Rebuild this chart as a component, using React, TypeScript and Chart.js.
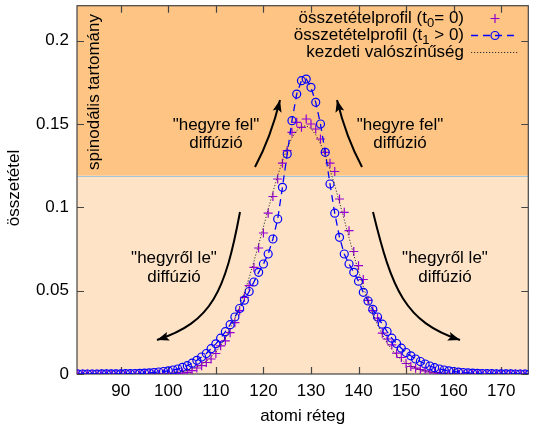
import React, { useEffect, useRef } from 'react';
import { Chart, registerables } from 'chart.js';

Chart.register(...registerables);

// ---- data (atomic layers 81 .. 176) ----
const firstLayer = 81;

const profileT0 = [
  0, 0, 0, 0, 0, 0, 0, 0, 0, 0,
  0, 0, 0, 0, 0, 0, 0, 0, 0, 0,
  0.0001, 0.0003, 0.0006, 0.001, 0.002, 0.0036, 0.005, 0.0069, 0.009, 0.0123,
  0.0169, 0.0199, 0.0248, 0.0308, 0.038, 0.046, 0.053, 0.064, 0.0756, 0.0846,
  0.0965, 0.1065, 0.117, 0.1265, 0.134, 0.145, 0.151, 0.148, 0.153, 0.15,
  0.147, 0.141, 0.133, 0.1265, 0.1215, 0.105, 0.097, 0.086, 0.0735, 0.065,
  0.0567, 0.0442, 0.038, 0.0335, 0.0245, 0.021, 0.0175, 0.0125, 0.0099, 0.0063,
  0.0045, 0.0035, 0.0027, 0.0019, 0.0012, 0.0007, 0.0004, 0.0002, 0.0001, 0,
  0, 0, 0, 0, 0, 0, 0, 0, 0, 0,
  0, 0, 0, 0, 0, 0,
];

const profileT1 = [
  0, 0, 0, 0, 0, 0.0001, 0.0001, 0.0001, 0.0001, 0.0001,
  0.0002, 0.0002, 0.0003, 0.0004, 0.0005, 0.0007, 0.0009, 0.0012, 0.0015, 0.0019,
  0.0024, 0.003, 0.004, 0.005, 0.0065, 0.0082, 0.0102, 0.0123, 0.0152, 0.0181,
  0.0215, 0.0254, 0.0296, 0.0342, 0.0393, 0.0443, 0.0495, 0.0552, 0.061, 0.066,
  0.072, 0.081, 0.093, 0.112, 0.132, 0.152, 0.168, 0.176, 0.177, 0.172,
  0.163, 0.15, 0.133, 0.114, 0.0965, 0.082, 0.072, 0.066, 0.061, 0.0557,
  0.049, 0.0438, 0.0388, 0.0342, 0.0299, 0.0255, 0.0215, 0.0183, 0.0155, 0.0129,
  0.0109, 0.009, 0.0075, 0.006, 0.0048, 0.0038, 0.003, 0.0024, 0.0019, 0.0015,
  0.0011, 0.0009, 0.0007, 0.0005, 0.0004, 0.0003, 0.0002, 0.0002, 0.0001, 0.0001,
  0.0001, 0.0001, 0, 0, 0, 0,
];

const initialProb = [
  0, 0, 0, 0, 0, 0, 0, 0, 0, 0,
  0, 0, 0, 0, 0, 0, 0.0001, 0.0002, 0.0003, 0.0005,
  0.0007, 0.0011, 0.0015, 0.0022, 0.0031, 0.0042, 0.0057, 0.0077, 0.0102, 0.0132,
  0.017, 0.0216, 0.0271, 0.0334, 0.0406, 0.0488, 0.0578, 0.0675, 0.0777, 0.0882,
  0.0988, 0.1092, 0.119, 0.1278, 0.1355, 0.1417, 0.146, 0.1485, 0.1489, 0.1473,
  0.1436, 0.1382, 0.1311, 0.1227, 0.1132, 0.103, 0.0925, 0.0819, 0.0715, 0.0616,
  0.0523, 0.0438, 0.0362, 0.0295, 0.0237, 0.0188, 0.0147, 0.0113, 0.0086, 0.0064,
  0.0048, 0.0035, 0.0025, 0.0018, 0.0012, 0.0009, 0.0006, 0.0004, 0.0003, 0.0002,
  0.0001, 0, 0, 0, 0, 0, 0, 0, 0, 0,
  0, 0, 0, 0, 0, 0,
];

const xTickValues = [90, 100, 110, 120, 130, 140, 150, 160, 170];
const yTickValues = [0, 0.05, 0.1, 0.15, 0.2];
const xRange = [80.8, 175.7];
const yRange = [0, 0.221];
const spinodalLimit = 0.119;

const legendT0 = ['összetételprofil (t', '0', '= 0)'];
const legendT1 = ['összetételprofil (t', '1', ' > 0)'];
const legendInit = 'kezdeti valószínűség';
const uphillLabel = ['"hegyre fel"', 'diffúzió'];
const downhillLabel = ['"hegyről le"', 'diffúzió'];
const regionLabel = 'spinodális tartomány';
const xTitle = 'atomi réteg';
const yTitle = 'összetétel';

const FAM = '"Liberation Sans", Arial, Helvetica, sans-serif';
const VIOLET = '#9400d3';
const BLUE = '#0000ff';

export default function App() {
  const ref = useRef<HTMLCanvasElement>(null);

  useEffect(() => {
    const layers = profileT0.map((_, i) => firstLayer + i);
    const pts = (vals: number[]) => vals.map((v, i) => ({ x: layers[i], y: v }));

    const big = `17px ${FAM}`;
    const small = `13px ${FAM}`;

    const drawArrow = (ctx: CanvasRenderingContext2D, p: number[][]) => {
      const [p0, c1, c2, p3] = p;
      ctx.beginPath();
      ctx.moveTo(p0[0], p0[1]);
      ctx.bezierCurveTo(c1[0], c1[1], c2[0], c2[1], p3[0], p3[1]);
      ctx.stroke();
      let dx = p3[0] - c2[0];
      let dy = p3[1] - c2[1];
      const len = Math.hypot(dx, dy);
      dx /= len; dy /= len;
      const L = 12, W = 4.5;
      const bx = p3[0] - dx * L, by = p3[1] - dy * L;
      const nx = -dy, ny = dx;
      ctx.beginPath();
      ctx.moveTo(p3[0], p3[1]);
      ctx.lineTo(bx + nx * W, by + ny * W);
      ctx.lineTo(p3[0] - dx * L * 0.8, p3[1] - dy * L * 0.8);
      ctx.lineTo(bx - nx * W, by - ny * W);
      ctx.closePath();
      ctx.fill();
    };

    const drawRich = (ctx: CanvasRenderingContext2D, parts: string[], right: number, base: number) => {
      ctx.font = big;
      const w0 = ctx.measureText(parts[0]).width;
      const w2 = ctx.measureText(parts[2]).width;
      ctx.font = small;
      const w1 = ctx.measureText(parts[1]).width;
      let x = right - (w0 + w1 + w2);
      ctx.textAlign = 'left';
      ctx.textBaseline = 'alphabetic';
      ctx.font = big;
      ctx.fillText(parts[0], x, base);
      x += w0;
      ctx.font = small;
      ctx.fillText(parts[1], x, base + 4);
      x += w1;
      ctx.font = big;
      ctx.fillText(parts[2], x, base);
    };

    const decor = {
      id: 'decor',
      beforeDatasetsDraw(chart: any) {
        const { ctx, chartArea: a, scales } = chart;
        const ys = scales.y.getPixelForValue(spinodalLimit);
        ctx.save();
        ctx.fillStyle = '#fee3c6';
        ctx.fillRect(a.left, ys, a.right - a.left, a.bottom - ys);
        ctx.fillStyle = '#fdc483';
        ctx.fillRect(a.left, a.top, a.right - a.left, ys - a.top);
        ctx.strokeStyle = '#a3c6da';
        ctx.lineWidth = 1;
        ctx.beginPath();
        ctx.moveTo(a.left, Math.round(ys) + 0.5);
        ctx.lineTo(a.right, Math.round(ys) + 0.5);
        ctx.stroke();

        ctx.strokeStyle = '#444';
        ctx.lineWidth = 1.2;
        ctx.strokeRect(a.left, a.top, a.right - a.left, a.bottom - a.top);
        const tl = 7;
        ctx.beginPath();
        for (const v of xTickValues) {
          const px = Math.round(scales.x.getPixelForValue(v)) + 0.5;
          ctx.moveTo(px, a.bottom);
          ctx.lineTo(px, a.bottom - tl);
          ctx.moveTo(px, a.top);
          ctx.lineTo(px, a.top + tl);
        }
        for (const v of yTickValues) {
          const py = Math.round(scales.y.getPixelForValue(v)) + 0.5;
          ctx.moveTo(a.left, py);
          ctx.lineTo(a.left + tl, py);
          ctx.moveTo(a.right, py);
          ctx.lineTo(a.right - tl, py);
        }
        ctx.stroke();
        ctx.restore();
      },
      afterDatasetsDraw(chart: any) {
        const { ctx, chartArea: a } = chart;
        ctx.save();
        ctx.fillStyle = '#000';
        ctx.strokeStyle = '#000';
        ctx.lineWidth = 2;

        // arrows
        drawArrow(ctx, [[255, 167], [265.7, 147], [274, 124.7], [280, 100]]);
        drawArrow(ctx, [[362, 167], [351.3, 147], [343, 124.7], [337, 100]]);
        drawArrow(ctx, [[240, 212], [225, 292], [212, 322], [157, 340]]);
        drawArrow(ctx, [[373, 212], [392, 290], [405, 322], [460, 340]]);

        // annotation texts
        ctx.font = big;
        ctx.textAlign = 'center';
        ctx.textBaseline = 'alphabetic';
        ctx.fillText(uphillLabel[0], 216, 130);
        ctx.fillText(uphillLabel[1], 216, 148);
        ctx.fillText(uphillLabel[0], 400, 130);
        ctx.fillText(uphillLabel[1], 400, 148);
        ctx.fillText(downhillLabel[0], 174, 263);
        ctx.fillText(downhillLabel[1], 174, 282);
        ctx.fillText(downhillLabel[0], 445, 263);
        ctx.fillText(downhillLabel[1], 445, 282);

        // region label (vertical)
        ctx.save();
        ctx.translate(98.5, 92);
        ctx.rotate(-Math.PI / 2);
        ctx.fillText(regionLabel, 0, 0);
        ctx.restore();

        // legend
        drawRich(ctx, legendT0, 464, 23);
        drawRich(ctx, legendT1, 464, 40);
        ctx.font = big;
        ctx.textAlign = 'right';
        ctx.fillText(legendInit, 464, 57);

        // legend samples
        ctx.strokeStyle = VIOLET;
        ctx.lineWidth = 1.2;
        ctx.beginPath();
        ctx.moveTo(490.5, 18.5);
        ctx.lineTo(499.5, 18.5);
        ctx.moveTo(495, 14);
        ctx.lineTo(495, 23);
        ctx.stroke();

        ctx.strokeStyle = BLUE;
        ctx.lineWidth = 1.3;
        ctx.setLineDash([7, 5]);
        ctx.beginPath();
        ctx.moveTo(471, 35.5);
        ctx.lineTo(518, 35.5);
        ctx.stroke();
        ctx.setLineDash([]);
        ctx.lineWidth = 1.2;
        ctx.beginPath();
        ctx.arc(495, 35.5, 4, 0, Math.PI * 2);
        ctx.stroke();

        ctx.strokeStyle = '#333';
        ctx.lineWidth = 1;
        ctx.setLineDash([1.2, 1.8]);
        ctx.beginPath();
        ctx.moveTo(471, 52.5);
        ctx.lineTo(518, 52.5);
        ctx.stroke();
        ctx.setLineDash([]);

        // axis titles
        ctx.fillStyle = '#000';
        ctx.font = big;
        ctx.textAlign = 'center';
        ctx.textBaseline = 'alphabetic';
        ctx.fillText(xTitle, (a.left + a.right) / 2, 421);
        ctx.save();
        ctx.translate(14, 188);
        ctx.rotate(-Math.PI / 2);
        ctx.textBaseline = 'middle';
        ctx.fillText(yTitle, 0, 0);
        ctx.restore();

        ctx.restore();
      },
    };

    const chart = new Chart(ref.current as HTMLCanvasElement, {
      type: 'scatter',
      data: {
        datasets: [
          {
            label: legendInit,
            data: pts(initialProb),
            showLine: true,
            borderColor: '#333',
            borderWidth: 1,
            borderDash: [1.2, 1.8],
            pointRadius: 0,
            tension: 0,
          },
          {
            label: legendT1.join(''),
            data: pts(profileT1),
            showLine: true,
            borderColor: BLUE,
            borderWidth: 1.3,
            borderDash: [7, 5],
            pointStyle: 'circle',
            pointRadius: 4,
            pointBorderWidth: 1.2,
            pointBorderColor: BLUE,
            pointBackgroundColor: 'rgba(0,0,0,0)',
            tension: 0,
          },
          {
            label: legendT0.join(''),
            data: pts(profileT0),
            showLine: false,
            pointStyle: 'cross',
            pointRadius: 4.5,
            pointBorderWidth: 1.2,
            pointBorderColor: VIOLET,
            borderColor: VIOLET,
          },
        ],
      } as any,
      options: {
        animation: false,
        responsive: false,
        devicePixelRatio: 1,
        events: [],
        layout: { padding: { top: 3, right: 1, left: 0, bottom: 0 } },
        plugins: { legend: { display: false }, tooltip: { enabled: false } },
        scales: {
          x: {
            type: 'linear',
            min: xRange[0],
            max: xRange[1],
            grid: { display: false, drawTicks: false },
            border: { display: false },
            ticks: {
              autoSkip: false,
              maxRotation: 0,
              padding: 7,
              color: '#000',
              font: { family: FAM, size: 17 },
              callback: (v: any) => String(v),
            },
            afterBuildTicks: (s: any) => {
              s.ticks = xTickValues.map((v) => ({ value: v }));
            },
            afterFit: (s: any) => {
              s.height = 54;
              s.paddingLeft = 0;
              s.paddingRight = 0;
            },
          },
          y: {
            type: 'linear',
            min: yRange[0],
            max: yRange[1],
            grid: { display: false, drawTicks: false },
            border: { display: false },
            ticks: {
              padding: 8,
              color: '#000',
              font: { family: FAM, size: 17 },
              callback: (v: any) => (v === 0 ? '0' : String(+Number(v).toFixed(2))),
            },
            afterBuildTicks: (s: any) => {
              s.ticks = yTickValues.map((v) => ({ value: v }));
            },
            afterFit: (s: any) => {
              s.width = 77;
              s.paddingTop = 0;
              s.paddingBottom = 0;
            },
          },
        },
      } as any,
      plugins: [decor],
    });
    return () => chart.destroy();
  }, []);

  return (
    <div style={{ position: 'absolute', left: 0, top: 0, width: 534, height: 428 }}>
      <canvas ref={ref} width={534} height={428} style={{ display: 'block' }} />
    </div>
  );
}
